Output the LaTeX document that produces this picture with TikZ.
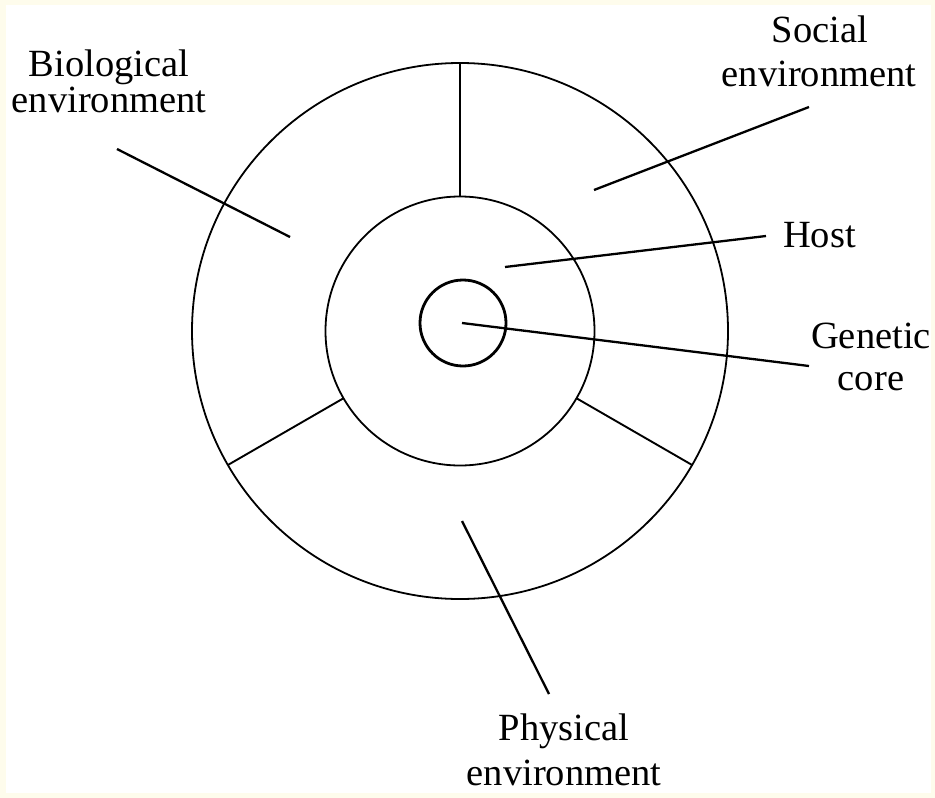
\documentclass[tikz,border=0pt]{standalone}
\usepackage{fontspec}
\setmainfont{Liberation Serif}
\definecolor{cream}{RGB}{254,252,236}
\begin{document}
\begin{tikzpicture}[x=1pt,y=-1pt,
  ring/.style={draw=black,circle,inner sep=0pt,outer sep=0pt,line width=1.8pt},
  core/.style={draw=black,circle,inner sep=0pt,outer sep=0pt,line width=2.8pt},
  divider/.style={draw=black,line width=1.9pt},
  leader/.style={draw=black,line width=2.3pt},
  lbl/.style={inner sep=0pt,outer sep=0pt,anchor=base,font=\fontsize{38.5}{40}\selectfont}]
\useasboundingbox (0,0) rectangle (935,798);
\fill[cream] (0,0) rectangle (935,798);
\fill[white] (6,5) rectangle (931,793);
% circles
\node[ring,minimum size=536pt] (outer) at (460,331) {};
\node[ring,minimum size=269pt] (inner) at (460,331) {};
\node[core,minimum size=86pt] (gcore) at (463,323) {};
% dividers
\draw[divider] (inner.90) -- (outer.90);
\draw[divider] (inner.210) -- (outer.210);
\draw[divider] (inner.330) -- (outer.330);
% labels
\node[lbl] (bio1) at (109,76) {Biological};
\node[lbl] (bio2) at (109,112) {environment};
\node[lbl] (soc1) at (820,42) {Social};
\node[lbl] (soc2) at (819,86) {environment};
\node[lbl,anchor=base west] (host) at (783,247) {Host};
\node[lbl] (gen1) at (871,348) {Genetic};
\node[lbl] (gen2) at (871,390) {core};
\node[lbl] (phy1) at (564,740) {Physical};
\node[lbl] (phy2) at (564,785) {environment};
% leader lines
\coordinate (bioA) at (117,149);
\coordinate (bioB) at (290,237);
\coordinate (socA) at (809,107);
\coordinate (socB) at (594,190);
\coordinate (hostA) at (766,236);
\coordinate (hostB) at (505,267);
\coordinate (genA) at (809,366);
\coordinate (genB) at (462,323);
\coordinate (phyA) at (549,694);
\coordinate (phyB) at (462,521);
\draw[leader] (bioA) -- (bioB);
\draw[leader] (socA) -- (socB);
\draw[leader] (hostA) -- (hostB);
\draw[leader] (genA) -- (genB);
\draw[leader] (phyA) -- (phyB);
\end{tikzpicture}
\end{document}
